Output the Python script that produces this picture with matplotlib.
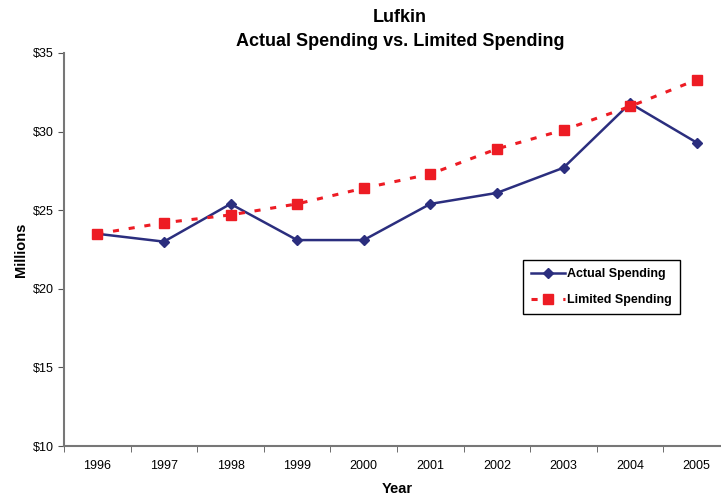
import matplotlib
matplotlib.use("Agg")
import matplotlib.pyplot as plt
import numpy as np

plt.rcParams["font.family"] = ["Liberation Sans", "DejaVu Sans"]

years = ["1996", "1997", "1998", "1999", "2000", "2001", "2002", "2003", "2004", "2005"]
actual = [23.5, 23.0, 25.4, 23.1, 23.1, 25.4, 26.1, 27.7, 31.8, 29.3]
limited = [23.5, 24.2, 24.7, 25.4, 26.4, 27.3, 28.9, 30.1, 31.6, 33.3]
yticks = [10, 15, 20, 25, 30, 35]

fig = plt.figure(figsize=(7.21, 5.0), dpi=100)
# axis runs a little past the right edge of the canvas
ax = fig.add_axes([64 / 721, 54 / 500, 666 / 721, 393 / 500])

x = np.arange(len(years))
ax.plot(x, actual, color="#2B2E7E", lw=1.8, marker="D", ms=5,
        label="Actual Spending", zorder=3)
ax.plot(x, limited, color="#ED1C24", lw=2.2, ls=(0, (2, 3.2)), marker="s",
        ms=7.5, label="Limited Spending", zorder=4)

ax.set_xlim(-0.5, len(years) - 0.5)
ax.set_ylim(10, 35)
ax.set_yticks(yticks)
ax.set_yticklabels(["$%d" % v for v in yticks], fontsize=9)
ax.set_xticks(x)
ax.set_xticklabels(years, fontsize=9)
ax.tick_params(axis="x", length=0, pad=10)
ax.set_xticks(np.arange(-0.5, len(years)), minor=True)
ax.tick_params(axis="x", which="minor", length=4, direction="out", color="#555555")
ax.tick_params(axis="y", length=4, direction="out", color="#555555")

for s in ["top", "right"]:
    ax.spines[s].set_visible(False)
for s in ["left", "bottom"]:
    ax.spines[s].set_color("#777777")
    ax.spines[s].set_linewidth(1.5)

ax.set_ylabel("Millions", fontsize=10.5, fontweight="bold", labelpad=3)
ax.set_xlabel("Year", fontsize=10.5, fontweight="bold", labelpad=7)

fig.text(400 / 721, 1 - 18 / 500, "Lufkin", ha="center", va="center",
         fontsize=13, fontweight="bold")
fig.text(400 / 721, 1 - 41 / 500, "Actual Spending vs. Limited Spending",
         ha="center", va="center", fontsize=13, fontweight="bold")

leg = ax.legend(loc="upper left", bbox_to_anchor=((523 - 64) / 666, (446 - 260) / 393),
                borderaxespad=0, fancybox=False, edgecolor="black", framealpha=1,
                prop={"size": 9, "weight": "bold"}, handlelength=2.7,
                borderpad=0.65, labelspacing=1.1, handletextpad=0.2)
leg.get_frame().set_linewidth(1.0)

fig.savefig("out.png", dpi=100)
